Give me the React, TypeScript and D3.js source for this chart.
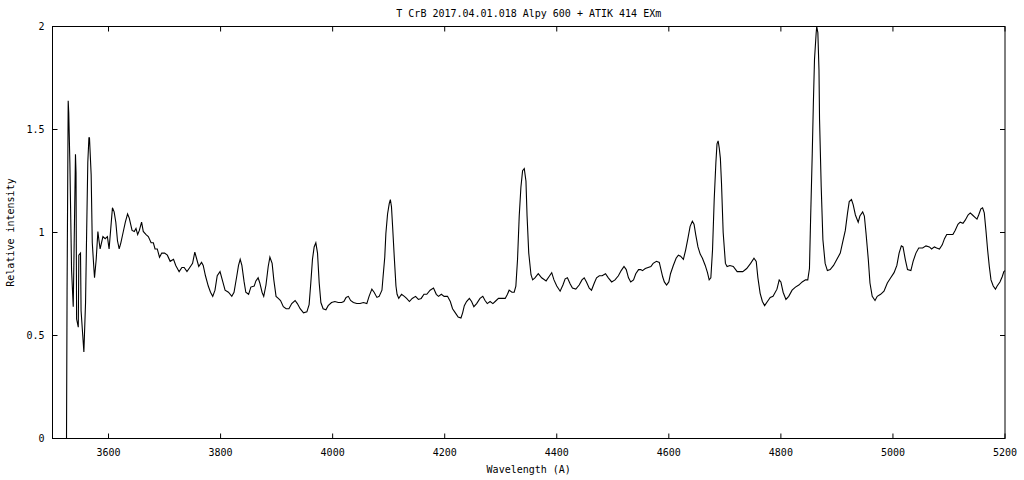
import React from 'react';
import * as d3 from 'd3';

const title = 'T CrB 2017.04.01.018 Alpy 600 + ATIK 414 EXm';
const xLabel = 'Wavelength (A)';
const yLabel = 'Relative intensity';

const xTicks = [3600, 3800, 4000, 4200, 4400, 4600, 4800, 5000, 5200];
const yTicks = [0, 0.5, 1, 1.5, 2];

// wavelength (A)
const wavelength = [
  3525, 3526, 3528, 3529, 3531, 3534, 3537, 3541, 3542, 3543, 3546, 3547, 3550, 3551, 3554, 3556,
  3559, 3561, 3563, 3565, 3566, 3569, 3571, 3574, 3575, 3578, 3581, 3583, 3585, 3590, 3594, 3598,
  3601, 3604, 3607, 3610, 3613, 3616, 3619, 3622, 3626, 3630, 3634, 3637, 3642, 3646, 3649, 3652,
  3655, 3659, 3662, 3667, 3671, 3676, 3680, 3683, 3687, 3691, 3695, 3700, 3705, 3710, 3716, 3720,
  3726, 3731, 3735, 3740, 3745, 3750, 3754, 3757, 3761, 3766, 3769, 3773, 3778, 3782, 3786, 3790,
  3794, 3799, 3804, 3808, 3814, 3820, 3824, 3829, 3832, 3835, 3838, 3842, 3845, 3850, 3854, 3860,
  3863, 3867, 3870, 3874, 3877, 3881, 3885, 3888, 3892, 3895, 3899, 3903, 3907, 3912, 3917, 3922,
  3927, 3933, 3937, 3942, 3948, 3954, 3958, 3961, 3964, 3967, 3970, 3973, 3976, 3979, 3983, 3988,
  3992, 3998, 4004, 4010, 4016, 4020, 4024, 4028, 4032, 4037, 4043, 4049, 4055, 4061, 4065, 4070,
  4074, 4079, 4083, 4088, 4090, 4093, 4095, 4098, 4101, 4103, 4105, 4107, 4110, 4113, 4115, 4118,
  4123, 4128, 4132, 4137, 4142, 4148, 4153, 4158, 4163, 4168, 4174, 4180, 4185, 4189, 4194, 4199,
  4205, 4210, 4214, 4219, 4224, 4229, 4232, 4235, 4239, 4244, 4248, 4252, 4257, 4263, 4268, 4272,
  4276, 4281, 4286, 4290, 4296, 4302, 4308, 4312, 4315, 4320, 4324, 4327, 4330, 4333, 4336, 4339,
  4342, 4345, 4347, 4350, 4354, 4357, 4361, 4367, 4373, 4381, 4386, 4391, 4395, 4400, 4406, 4411,
  4415, 4419, 4424, 4428, 4434, 4440, 4445, 4449, 4453, 4458, 4462, 4467, 4471, 4476, 4481, 4487,
  4492, 4498, 4504, 4510, 4515, 4520, 4524, 4528, 4532, 4537, 4541, 4546, 4550, 4553, 4558, 4563,
  4568, 4572, 4578, 4583, 4586, 4589, 4592, 4596, 4600, 4603, 4608, 4613, 4617, 4621, 4626, 4630,
  4634, 4638, 4642, 4645, 4648, 4652, 4656, 4660, 4665, 4669, 4672, 4675, 4678, 4681, 4684, 4686,
  4688, 4690, 4692, 4694, 4697, 4701, 4704, 4709, 4715, 4722, 4732, 4739, 4746, 4752, 4756, 4759,
  4763, 4767, 4771, 4776, 4781, 4786, 4793, 4797, 4800, 4804, 4809, 4814, 4820, 4826, 4832, 4838,
  4844, 4848, 4851, 4853, 4856, 4858, 4860, 4863, 4864, 4866, 4868, 4869, 4872, 4875, 4879, 4883,
  4888, 4894, 4900, 4906, 4910, 4915, 4919, 4922, 4926, 4929, 4933, 4938, 4941, 4946, 4949, 4952,
  4956, 4959, 4963, 4968, 4972, 4978, 4984, 4990, 4996, 5002, 5007, 5011, 5015, 5018, 5022, 5026,
  5032, 5036, 5041, 5046, 5053, 5059, 5065, 5069, 5074, 5078, 5083, 5088, 5092, 5096, 5101, 5107,
  5111, 5116, 5120, 5125, 5129, 5134, 5138, 5142, 5146, 5150, 5153, 5157, 5160, 5163, 5166, 5169,
  5172, 5175, 5179, 5183, 5186, 5191, 5195, 5198, 5200,
];

// relative intensity at each wavelength above
const intensity = [
  0, 0.71, 1.64, 1.58, 1.34, 0.82, 0.64, 1.38, 1.29, 0.58, 0.54, 0.89, 0.9, 0.62, 0.5, 0.42,
  0.66, 1.01, 1.34, 1.46, 1.46, 1.28, 0.95, 0.82, 0.78, 0.87, 1.005, 0.96, 0.92, 0.98, 0.97, 0.98,
  0.92, 1.02, 1.12, 1.1, 1.05, 0.96, 0.92, 0.95, 1.0, 1.05, 1.09, 1.07, 1.01, 1.005, 1.02, 0.99,
  1.01, 1.05, 1.005, 0.99, 0.98, 0.95, 0.95, 0.92, 0.92, 0.88, 0.9, 0.9, 0.89, 0.86, 0.87, 0.84,
  0.81, 0.83, 0.83, 0.81, 0.83, 0.85, 0.905, 0.875, 0.835, 0.855, 0.84, 0.79, 0.74, 0.71, 0.69, 0.72,
  0.79, 0.81, 0.76, 0.72, 0.71, 0.69, 0.71, 0.79, 0.84, 0.87, 0.84, 0.76, 0.71, 0.7, 0.735, 0.74,
  0.765, 0.78, 0.755, 0.71, 0.69, 0.745, 0.835, 0.88, 0.85, 0.77, 0.69, 0.68, 0.67, 0.64, 0.63, 0.63,
  0.655, 0.67, 0.655, 0.63, 0.61, 0.615, 0.65, 0.755, 0.87, 0.93, 0.95, 0.9, 0.755, 0.66, 0.63, 0.625,
  0.645, 0.66, 0.665, 0.66, 0.66, 0.665, 0.685, 0.69, 0.67, 0.66, 0.655, 0.655, 0.66, 0.655, 0.69, 0.725,
  0.71, 0.685, 0.69, 0.72, 0.785, 0.88, 0.995, 1.09, 1.14, 1.16, 1.125, 1.03, 0.88, 0.74, 0.7, 0.68,
  0.7, 0.69, 0.68, 0.665, 0.68, 0.69, 0.675, 0.68, 0.7, 0.7, 0.72, 0.73, 0.7, 0.69, 0.7, 0.69,
  0.69, 0.665, 0.63, 0.61, 0.59, 0.585, 0.61, 0.645, 0.665, 0.68, 0.665, 0.64, 0.655, 0.68, 0.69, 0.67,
  0.655, 0.665, 0.655, 0.665, 0.68, 0.68, 0.68, 0.7, 0.72, 0.71, 0.71, 0.74, 0.87, 1.08, 1.22, 1.3,
  1.31, 1.25, 1.08, 0.9, 0.795, 0.77, 0.78, 0.8, 0.78, 0.765, 0.785, 0.805, 0.77, 0.74, 0.715, 0.745,
  0.775, 0.78, 0.75, 0.73, 0.725, 0.745, 0.77, 0.78, 0.76, 0.73, 0.72, 0.755, 0.78, 0.79, 0.79, 0.8,
  0.78, 0.76, 0.77, 0.79, 0.815, 0.835, 0.82, 0.78, 0.76, 0.77, 0.8, 0.82, 0.82, 0.815, 0.825, 0.83,
  0.835, 0.85, 0.86, 0.855, 0.82, 0.785, 0.76, 0.745, 0.76, 0.8, 0.84, 0.875, 0.89, 0.885, 0.87, 0.915,
  0.97, 1.03, 1.055, 1.04, 0.99, 0.93, 0.895, 0.875, 0.84, 0.805, 0.77, 0.78, 0.915, 1.16, 1.34, 1.43,
  1.445, 1.41, 1.36, 1.24, 1.0, 0.85, 0.835, 0.84, 0.835, 0.81, 0.81, 0.825, 0.85, 0.875, 0.86, 0.78,
  0.705, 0.665, 0.645, 0.665, 0.685, 0.69, 0.725, 0.77, 0.76, 0.71, 0.675, 0.69, 0.72, 0.735, 0.745, 0.76,
  0.77, 0.77, 0.825, 1.06, 1.385, 1.63, 1.84, 1.97, 2.0, 1.97, 1.79, 1.55, 1.22, 0.965, 0.85, 0.815,
  0.82, 0.84, 0.87, 0.9, 0.95, 1.01, 1.095, 1.15, 1.16, 1.135, 1.085, 1.05, 1.08, 1.1, 1.08, 0.995,
  0.87, 0.755, 0.69, 0.67, 0.69, 0.7, 0.715, 0.755, 0.78, 0.805, 0.84, 0.9, 0.935, 0.93, 0.87, 0.82,
  0.815, 0.86, 0.9, 0.925, 0.925, 0.935, 0.93, 0.92, 0.93, 0.925, 0.92, 0.94, 0.97, 0.99, 0.99, 0.99,
  1.01, 1.04, 1.05, 1.045, 1.06, 1.085, 1.095, 1.085, 1.075, 1.065, 1.085, 1.115, 1.12, 1.095, 1.01, 0.915,
  0.835, 0.77, 0.74, 0.725, 0.74, 0.76, 0.785, 0.81, 0.815,
];

const width = 1024;
const height = 480;
const margin = { top: 26.5, right: 19, bottom: 41.5, left: 52.5 };
const font = '"DejaVu Sans Mono", monospace';
const tickLen = 5;

export default function App() {
  const x = d3.scaleLinear().domain([3500, 5200]).range([margin.left, width - margin.right]);
  const y = d3.scaleLinear().domain([0, 2]).range([height - margin.bottom, margin.top]);

  const points = wavelength.map((w, i) => [w, intensity[i]] as [number, number]);
  const line = d3.line<[number, number]>()
    .x(d => x(d[0]))
    .y(d => y(d[1]));

  const x0 = margin.left;
  const x1 = width - margin.right;
  const y0 = height - margin.bottom;
  const y1 = margin.top;

  return (
    <div style={{ position: 'absolute', left: 0, top: 0 }}>
      <svg width={width} height={height} style={{ display: 'block', background: '#fff' }}>
        <g fontFamily={font} fontSize={10} fill="#000">
          {/* ticks, inward, mirrored */}
          {xTicks.map(t => (
            <g key={'x' + t}>
              <line x1={x(t)} x2={x(t)} y1={y0} y2={y0 - tickLen} stroke="#000" />
              <line x1={x(t)} x2={x(t)} y1={y1} y2={y1 + tickLen} stroke="#000" />
              <text x={x(t)} y={y0 + 17} textAnchor="middle">{t}</text>
            </g>
          ))}
          {yTicks.map(t => (
            <g key={'y' + t}>
              <line x1={x0} x2={x0 + tickLen} y1={y(t)} y2={y(t)} stroke="#000" />
              <line x1={x1} x2={x1 - tickLen} y1={y(t)} y2={y(t)} stroke="#000" />
              <text x={x0 - 8} y={y(t)} dy="0.35em" textAnchor="end">{String(t)}</text>
            </g>
          ))}

          <rect x={x0} y={y1} width={x1 - x0} height={y0 - y1} fill="none" stroke="#000" />

          <path d={line(points) || ''} fill="none" stroke="#000" strokeWidth={1.1} />

          <text x={(x0 + x1) / 2} y={17} textAnchor="middle">{title}</text>
          <text x={(x0 + x1) / 2} y={473} textAnchor="middle">{xLabel}</text>
          <text transform={`translate(14,${(y0 + y1) / 2}) rotate(-90)`} textAnchor="middle">{yLabel}</text>
        </g>
      </svg>
    </div>
  );
}
